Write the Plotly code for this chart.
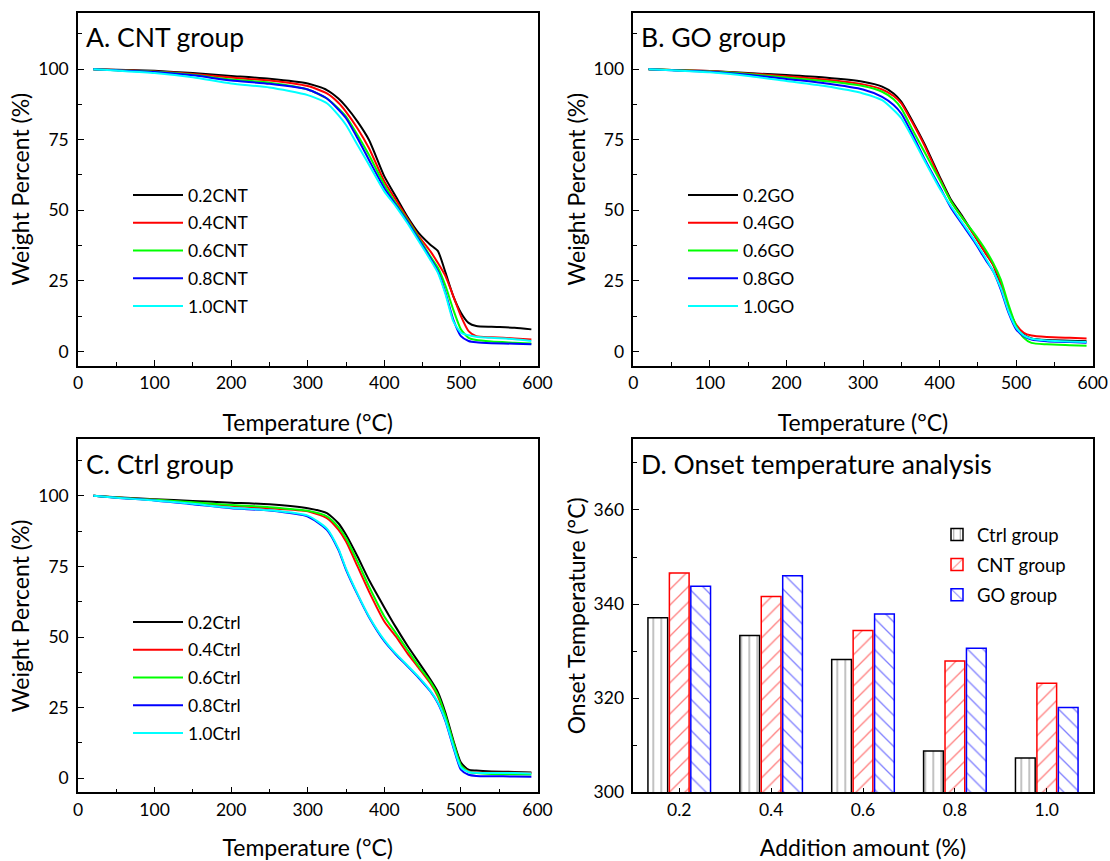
import plotly.graph_objects as go

# ---------------- data ----------------
temps = [20, 50, 100, 150, 200, 250, 300, 325, 340, 350, 365, 380, 400, 415,
         430, 445, 460, 470, 480, 490, 500, 510, 520, 540, 570, 592]

cnt_labels = ["0.2CNT", "0.4CNT", "0.6CNT", "0.8CNT", "1.0CNT"]
cnt_02 = [100, 99.8, 99.4, 98.6, 97.6, 96.6, 94.9, 92.6, 89.6, 86.7, 81.4, 74.9, 62.0, 54.9, 47.8, 41.9, 37.8, 35.5, 27.8, 19.6, 13.7, 10.1, 9.0, 8.7, 8.4, 7.8]
cnt_04 = [100, 99.7, 99.2, 98.3, 97.0, 96.0, 94.0, 91.4, 88.1, 84.9, 79.0, 72.0, 60.2, 53.7, 47.2, 40.8, 35.5, 31.3, 26.6, 19.6, 12.5, 7.2, 5.4, 5.0, 4.6, 4.2]
cnt_06 = [100, 99.6, 99.1, 98.0, 96.3, 95.2, 92.8, 89.6, 86.1, 83.2, 76.7, 69.6, 59.0, 52.5, 46.6, 40.2, 33.7, 29.6, 23.1, 14.8, 7.8, 4.8, 4.0, 3.5, 3.1, 2.8]
cnt_08 = [100, 99.6, 99.0, 97.8, 96.0, 94.8, 92.8, 89.6, 85.7, 82.6, 75.5, 67.8, 57.8, 51.9, 46.1, 39.6, 33.1, 28.4, 20.7, 11.3, 5.4, 3.7, 3.2, 2.9, 2.7, 2.5]
cnt_10 = [100, 99.5, 98.6, 97.1, 94.9, 93.5, 90.8, 87.9, 83.7, 80.2, 73.1, 66.1, 56.7, 51.4, 45.5, 39.0, 32.5, 27.8, 20.1, 10.7, 6.6, 5.7, 5.2, 4.8, 4.3, 3.7]

go_labels = ["0.2GO", "0.4GO", "0.6GO", "0.8GO", "1.0GO"]
go_02 = [100, 99.7, 99.3, 98.6, 97.9, 97.0, 95.5, 93.8, 91.4, 88.5, 81.4, 73.7, 62.0, 53.7, 47.8, 41.3, 34.9, 30.7, 23.7, 15.4, 9.0, 6.0, 4.6, 4.0, 3.8, 3.6]
go_04 = [100, 99.7, 99.3, 98.5, 97.5, 96.3, 94.6, 92.8, 90.5, 87.9, 80.8, 73.1, 61.4, 53.1, 47.2, 41.3, 34.9, 30.7, 24.3, 15.4, 9.5, 6.6, 5.6, 5.1, 4.8, 4.6]
go_06 = [100, 99.7, 99.2, 98.3, 97.0, 95.8, 94.0, 92.0, 89.3, 86.1, 78.4, 70.8, 60.8, 53.1, 47.2, 41.9, 36.0, 31.3, 25.4, 16.6, 9.0, 4.8, 3.0, 2.5, 2.2, 2.0]
go_08 = [100, 99.6, 99.1, 98.0, 96.5, 95.0, 92.8, 90.2, 87.3, 84.3, 76.7, 68.4, 58.4, 50.8, 44.9, 39.0, 32.5, 28.4, 21.9, 13.7, 7.8, 5.4, 4.2, 3.6, 3.3, 3.1]
go_10 = [100, 99.6, 98.9, 97.6, 95.8, 94.0, 91.4, 89.0, 85.5, 82.6, 75.5, 67.8, 57.8, 51.4, 45.5, 39.6, 33.1, 28.4, 22.5, 14.3, 8.4, 5.7, 4.5, 3.9, 3.5, 3.3]

ctrl_labels = ["0.2Ctrl", "0.4Ctrl", "0.6Ctrl", "0.8Ctrl", "1.0Ctrl"]
ctrl_02 = [100, 99.5, 98.8, 98.2, 97.6, 97.0, 95.6, 93.9, 90.3, 86.2, 78.5, 70.2, 60.5, 53.5, 47.0, 41.0, 35.0, 30.5, 23.0, 13.5, 5.5, 3.0, 2.7, 2.4, 2.2, 2.0]
ctrl_04 = [100, 99.4, 98.6, 97.5, 96.5, 95.6, 94.5, 92.1, 88.0, 83.8, 75.0, 66.1, 55.5, 50.2, 44.3, 39.0, 33.6, 28.9, 21.5, 12.5, 4.5, 2.4, 2.0, 1.9, 1.9, 1.8]
ctrl_06 = [100, 99.4, 98.6, 97.7, 96.8, 96.0, 94.7, 92.7, 88.9, 85.0, 76.7, 67.9, 57.3, 51.4, 45.5, 39.6, 34.2, 29.5, 22.0, 12.8, 4.6, 2.2, 1.8, 1.5, 1.4, 1.3]
ctrl_08 = [100, 99.3, 98.4, 97.0, 95.6, 94.8, 92.7, 88.0, 80.9, 73.8, 65.0, 57.0, 48.5, 43.8, 39.7, 35.5, 30.8, 26.5, 20.0, 11.0, 3.0, 1.2, 0.8, 0.7, 0.6, 0.5]
ctrl_10 = [100, 99.3, 98.4, 97.2, 95.8, 94.9, 93.0, 88.4, 81.3, 74.2, 65.3, 57.3, 48.9, 44.1, 40.0, 35.8, 31.0, 26.8, 20.4, 11.5, 3.8, 2.2, 1.9, 1.8, 1.8, 1.7]

amounts = [0.2, 0.4, 0.6, 0.8, 1.0]
amount_labels = ["0.2", "0.4", "0.6", "0.8", "1.0"]
onset_ctrl = [337.1, 333.3, 328.2, 308.8, 307.3]
onset_cnt = [346.6, 341.6, 334.4, 327.9, 323.2]
onset_go = [343.8, 346.0, 337.9, 330.6, 318.0]
bar_names = ["Ctrl group", "CNT group", "GO group"]

# ---------------- style ----------------
FONT = "Lato"
W, H = 1110, 861
line_colors = ["#000000", "#ff0000", "#00ff00", "#0000ff", "#00ffff"]


def dom_x(a, b):
    return [a / W, b / W]


def dom_y(top, bottom):
    return [1 - bottom / H, 1 - top / H]


fig = go.Figure()

groups = [
    ([cnt_02, cnt_04, cnt_06, cnt_08, cnt_10], cnt_labels, "x", "y", "legend"),
    ([go_02, go_04, go_06, go_08, go_10], go_labels, "x2", "y2", "legend2"),
    ([ctrl_02, ctrl_04, ctrl_06, ctrl_08, ctrl_10], ctrl_labels, "x3", "y3", "legend3"),
]
for series, labels, xa, ya, lg in groups:
    for i, (vals, lab) in enumerate(zip(series, labels)):
        fig.add_trace(go.Scatter(
            x=temps, y=vals, name=lab, mode="lines",
            line=dict(color=line_colors[i], width=2, shape="spline", smoothing=0.6),
            xaxis=xa, yaxis=ya, legend=lg, legendgroup=lg + lab,
        ))

bar_series = [onset_ctrl, onset_cnt, onset_go]
bar_colors = ["#000000", "#ff0000", "#0000ff"]
bar_shapes = ["|", "/", "\\"]
for vals, name, col, shp in zip(bar_series, bar_names, bar_colors, bar_shapes):
    fig.add_trace(go.Bar(
        x=amounts, y=vals, name=name, xaxis="x4", yaxis="y4", legend="legend4",
        legendgroup="d" + name,
        marker=dict(color="white", line=dict(color=col, width=1.5),
                    pattern=dict(shape=shp, fgcolor=col, bgcolor="white",
                                 size=8 if shp == "|" else 11, solidity=0.12)),
    ))

axis_common = dict(
    showline=True, linecolor="black", linewidth=1.5, mirror=True,
    ticks="inside", ticklen=6, tickwidth=1.3, tickcolor="black",
    showgrid=False, zeroline=False, automargin=False,
    tickfont=dict(family=FONT, size=17.5, color="black"),
    title_font=dict(family=FONT, size=23, color="black"),
)

xA, xB = dom_x(78, 537.5), dom_x(633.3, 1092.7)
yTop, yBot = dom_y(12.7, 365.5), dom_y(439.4, 792.3)


def temp_x(domain, anchor):
    return dict(axis_common, domain=domain, anchor=anchor, range=[0, 600],
                tick0=0, dtick=100, ticklabelstandoff=1,
                minor=dict(ticks="inside", ticklen=4, tickcolor="black", dtick=50, tick0=0, showgrid=False),
                title=dict(text="Temperature (°C)", standoff=23))


def wt_y(domain, anchor):
    return dict(axis_common, domain=domain, anchor=anchor, range=[-5, 120],
                tick0=0, dtick=25, ticklabelstandoff=4,
                minor=dict(ticks="inside", ticklen=4, tickcolor="black", dtick=12.5, tick0=0, showgrid=False),
                title=dict(text="Weight Percent (%)", standoff=2))


legend_common = dict(
    font=dict(family=FONT, size=17.5, color="black"), bgcolor="rgba(0,0,0,0)",
    borderwidth=0, tracegroupgap=2, itemwidth=50, xanchor="left", yanchor="top",
)

fig.update_layout(
    width=W, height=H, margin=dict(l=0, r=0, t=0, b=0),
    paper_bgcolor="white", plot_bgcolor="white",
    font=dict(family=FONT, color="black"),
    xaxis=temp_x(xA, "y"), yaxis=wt_y(yTop, "x"),
    xaxis2=temp_x(xB, "y2"), yaxis2=wt_y(yTop, "x2"),
    xaxis3=temp_x(xA, "y3"), yaxis3=wt_y(yBot, "x3"),
    xaxis4=dict(axis_common, domain=xB, anchor="y4", range=[0.1, 1.1],
                tickvals=amounts, ticktext=amount_labels, ticklen=5, ticklabelstandoff=1,
                title=dict(text="Addition amount (%)", standoff=21)),
    yaxis4=dict(axis_common, domain=yBot, anchor="x4", range=[300, 375],
                tick0=300, dtick=20, ticklabelstandoff=4,
                minor=dict(ticks="inside", ticklen=4, tickcolor="black", dtick=10, tick0=300, showgrid=False),
                title=dict(text="Onset Temperature (°C)", standoff=2)),
    barmode="group", bargap=0.3, bargroupgap=0.08,
    legend=dict(legend_common, x=128 / W, y=1 - 177 / H),
    legend2=dict(legend_common, x=683 / W, y=1 - 177 / H),
    legend3=dict(legend_common, x=128 / W, y=1 - 604 / H),
    legend4=dict(legend_common, x=937 / W, y=1 - 516 / H, itemwidth=30, tracegroupgap=3,
                 font=dict(family=FONT, size=18.5, color="black")),
)

titles = [("A. CNT group", "x", "y"), ("B. GO group", "x2", "y2"),
          ("C. Ctrl group", "x3", "y3"), ("D. Onset temperature analysis", "x4", "y4")]
for text, xa, ya in titles:
    fig.add_annotation(text=text, xref=xa + " domain", yref=ya + " domain",
                       x=0.012, y=0.93, xanchor="left", yanchor="middle", showarrow=False,
                       font=dict(family=FONT, size=26.5, color="black"))

fig.write_html("out.html", config={"displayModeBar": False},
               post_script="document.body.style.margin='0';")
